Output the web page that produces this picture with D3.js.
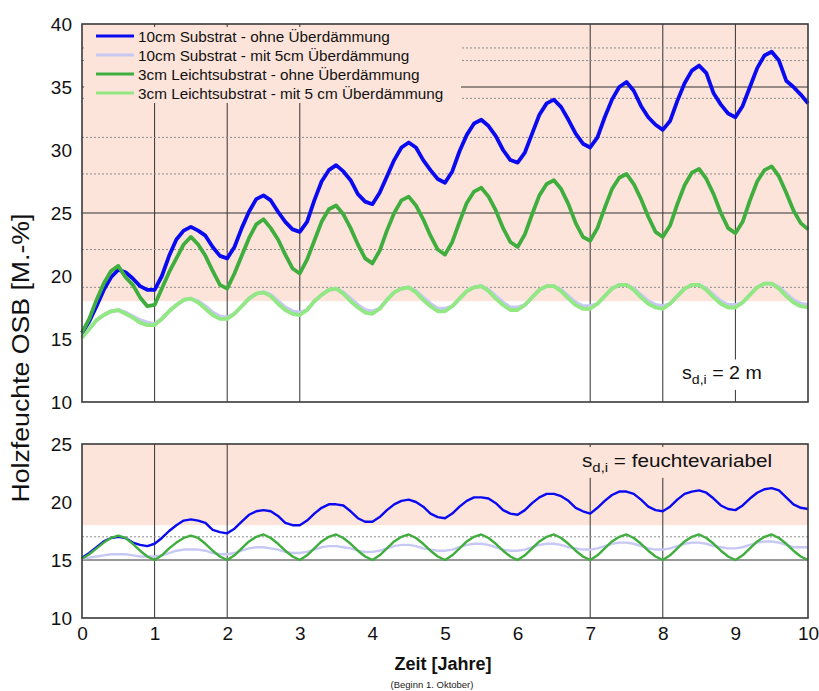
<!DOCTYPE html>
<html>
<head>
<meta charset="utf-8">
<script src="https://cdn.jsdelivr.net/npm/d3@7"></script>
<style>
  body { margin: 0; background: #fff; }
  svg { display: block; font-family: "Liberation Sans", Arial, sans-serif; }
</style>
</head>
<body>
<div id="chart"></div>
<script>
// time axis: 0..10 years in steps of 0.1
const years = d3.range(0, 101).map(i => i / 10);
const xTicks = [0, 1, 2, 3, 4, 5, 6, 7, 8, 9, 10];
const topYTicks = [10, 15, 20, 25, 30, 35, 40];
const bottomYTicks = [10, 15, 20, 25];

const seriesNames = [
  '10cm Substrat - ohne Überdämmung',
  '10cm Substrat - mit 5cm Überdämmung',
  '3cm Leichtsubstrat - ohne Überdämmung',
  '3cm Leichtsubstrat - mit 5 cm Überdämmung'
];

// s_d,i = 2 m
const topBlue = [
  15.5, 16.4, 17.6, 18.9, 19.9, 20.5, 20.3, 19.8, 19.2, 18.9,
  18.9, 20.0, 21.6, 22.9, 23.6, 23.9, 23.6, 23.2, 22.3, 21.6,
  21.4, 22.3, 23.8, 25.1, 26.1, 26.4, 26.0, 25.1, 24.3, 23.7,
  23.5, 24.3, 26.0, 27.5, 28.4, 28.8, 28.3, 27.6, 26.5, 25.9,
  25.7, 26.6, 27.9, 29.2, 30.2, 30.6, 30.2, 29.2, 28.4, 27.7,
  27.4, 28.3, 29.9, 31.2, 32.1, 32.4, 31.9, 31.1, 30.0, 29.2,
  29.0, 29.8, 31.3, 32.8, 33.7, 34.0, 33.4, 32.4, 31.3, 30.5,
  30.2, 31.0, 32.6, 34.0, 35.0, 35.4, 34.7, 33.5, 32.6, 32.0,
  31.6, 32.3, 33.9, 35.3, 36.3, 36.7, 36.1, 34.5, 33.6, 32.9,
  32.6, 33.5, 35.0, 36.5, 37.5, 37.8, 37.1, 35.5, 35.0, 34.4,
  33.7
];
const topGreen = [
  15.5, 16.6, 18.1, 19.4, 20.4, 20.8, 19.9, 19.3, 18.3, 17.6,
  17.7, 19.0, 20.3, 21.4, 22.5, 23.1, 22.5, 21.6, 20.4, 19.3,
  19.0, 20.2, 21.6, 23.0, 24.1, 24.5, 23.8, 22.9, 21.7, 20.6,
  20.2, 21.3, 22.8, 24.3, 25.3, 25.6, 24.9, 23.8, 22.5, 21.4,
  21.0, 22.0, 23.6, 25.0, 26.0, 26.3, 25.6, 24.5, 23.2, 22.1,
  21.7, 22.7, 24.3, 25.8, 26.7, 27.0, 26.3, 25.2, 23.8, 22.7,
  22.3, 23.3, 24.9, 26.4, 27.3, 27.6, 26.9, 25.7, 24.2, 23.1,
  22.8, 23.8, 25.4, 26.9, 27.8, 28.1, 27.3, 26.1, 24.7, 23.5,
  23.1, 24.0, 25.7, 27.2, 28.2, 28.5, 27.7, 26.5, 25.0, 23.8,
  23.4, 24.3, 26.0, 27.5, 28.4, 28.7, 27.9, 26.6, 25.2, 24.2,
  23.7
];
const topLavender = [
  15.2, 15.8, 16.5, 16.9, 17.2, 17.3, 17.1, 16.8, 16.5, 16.3,
  16.2, 16.6, 17.2, 17.7, 18.1, 18.2, 18.0, 17.6, 17.1, 16.8,
  16.7, 17.0, 17.6, 18.2, 18.6, 18.7, 18.5, 18.0, 17.5, 17.2,
  17.1, 17.3, 18.0, 18.5, 18.9, 19.0, 18.7, 18.2, 17.7, 17.3,
  17.2, 17.4, 18.1, 18.7, 19.0, 19.1, 18.8, 18.3, 17.8, 17.4,
  17.4, 17.6, 18.2, 18.8, 19.1, 19.2, 18.9, 18.4, 17.9, 17.5,
  17.5, 17.7, 18.3, 18.9, 19.2, 19.2, 18.9, 18.4, 17.9, 17.6,
  17.6, 17.8, 18.4, 19.0, 19.3, 19.3, 19.0, 18.5, 18.0, 17.7,
  17.6, 17.8, 18.4, 19.0, 19.3, 19.3, 19.0, 18.5, 18.0, 17.7,
  17.7, 17.9, 18.5, 19.1, 19.4, 19.4, 19.1, 18.6, 18.1, 17.8,
  17.7
];
const topLightGreen = [
  15.1, 15.8, 16.5, 16.9, 17.2, 17.3, 17.0, 16.7, 16.3, 16.1,
  16.1, 16.6, 17.2, 17.7, 18.1, 18.2, 17.9, 17.4, 16.9, 16.6,
  16.6, 17.0, 17.6, 18.2, 18.6, 18.7, 18.4, 17.8, 17.3, 17.0,
  16.9, 17.3, 18.0, 18.5, 18.9, 19.0, 18.6, 18.0, 17.5, 17.1,
  17.0, 17.4, 18.1, 18.7, 19.0, 19.1, 18.7, 18.1, 17.6, 17.2,
  17.2, 17.6, 18.2, 18.8, 19.1, 19.2, 18.8, 18.2, 17.7, 17.3,
  17.3, 17.7, 18.3, 18.9, 19.2, 19.2, 18.8, 18.2, 17.7, 17.4,
  17.4, 17.8, 18.4, 19.0, 19.3, 19.3, 18.9, 18.3, 17.8, 17.5,
  17.4, 17.8, 18.4, 19.0, 19.3, 19.3, 18.9, 18.3, 17.8, 17.5,
  17.5, 17.9, 18.5, 19.1, 19.4, 19.4, 19.0, 18.4, 17.9, 17.6,
  17.5
];

// s_d,i = feuchtevariabel
const bottomBlue = [
  15.2, 15.6, 16.1, 16.6, 16.9, 17.0, 16.9, 16.5, 16.3, 16.2,
  16.4, 16.9, 17.5, 18.0, 18.4, 18.5, 18.4, 18.2, 17.6, 17.4,
  17.3, 17.7, 18.3, 18.9, 19.2, 19.3, 19.2, 18.8, 18.2, 18.0,
  18.0, 18.4, 19.0, 19.5, 19.8, 19.8, 19.7, 19.2, 18.6, 18.3,
  18.3, 18.7, 19.3, 19.8, 20.1, 20.2, 20.0, 19.6, 19.0, 18.7,
  18.6, 19.0, 19.6, 20.1, 20.4, 20.4, 20.3, 19.9, 19.3, 19.0,
  18.9, 19.3, 19.9, 20.4, 20.7, 20.7, 20.5, 20.1, 19.5, 19.2,
  19.0, 19.5, 20.1, 20.6, 20.9, 20.9, 20.7, 20.2, 19.6, 19.3,
  19.2, 19.6, 20.2, 20.7, 20.9, 21.0, 20.8, 20.3, 19.7, 19.4,
  19.3, 19.7, 20.3, 20.8, 21.1, 21.2, 21.0, 20.4, 19.8, 19.5,
  19.4
];
const bottomGreen = [
  15.1, 15.5, 16.0, 16.5, 16.9, 17.1, 16.9, 16.4, 15.8, 15.3,
  15.0, 15.4, 16.0, 16.5, 16.9, 17.1, 16.9, 16.4, 15.8, 15.3,
  15.0, 15.4, 16.0, 16.6, 17.0, 17.2, 16.9, 16.4, 15.8, 15.3,
  15.0, 15.4, 16.0, 16.6, 17.0, 17.2, 16.9, 16.4, 15.8, 15.3,
  15.0, 15.4, 16.0, 16.6, 17.0, 17.2, 16.9, 16.4, 15.8, 15.3,
  15.0, 15.4, 16.0, 16.6, 17.0, 17.2, 16.9, 16.4, 15.8, 15.3,
  15.0, 15.4, 16.0, 16.6, 17.0, 17.2, 16.9, 16.4, 15.8, 15.3,
  15.0, 15.4, 16.0, 16.6, 17.0, 17.2, 16.9, 16.4, 15.8, 15.3,
  15.0, 15.4, 16.0, 16.6, 17.0, 17.2, 16.9, 16.4, 15.8, 15.3,
  15.0, 15.4, 16.0, 16.6, 17.0, 17.2, 16.9, 16.4, 15.8, 15.3,
  15.0
];
const bottomLavender = [
  15.1, 15.2, 15.3, 15.4, 15.5, 15.5, 15.5, 15.4, 15.3, 15.3,
  15.3, 15.4, 15.6, 15.8, 15.9, 15.9, 15.9, 15.8, 15.6, 15.5,
  15.5, 15.6, 15.8, 16.0, 16.1, 16.1, 16.0, 15.9, 15.7, 15.6,
  15.6, 15.7, 15.9, 16.1, 16.2, 16.2, 16.1, 16.0, 15.8, 15.7,
  15.7, 15.8, 16.0, 16.2, 16.3, 16.3, 16.2, 16.0, 15.9, 15.8,
  15.8, 15.9, 16.1, 16.3, 16.4, 16.4, 16.3, 16.1, 15.9, 15.8,
  15.8, 15.9, 16.1, 16.3, 16.4, 16.4, 16.3, 16.1, 16.0, 15.9,
  15.9, 16.0, 16.2, 16.4, 16.5, 16.5, 16.4, 16.2, 16.0, 15.9,
  15.9, 16.0, 16.2, 16.4, 16.5, 16.5, 16.4, 16.2, 16.1, 16.0,
  16.0, 16.1, 16.3, 16.5, 16.6, 16.6, 16.5, 16.3, 16.1, 16.1,
  16.1
];

// reference lines
const topVertical = [1, 2, 3, 7, 8, 9];
const topSolid = [25, 35];
const topDotted = [38.1, 37.1, 34.1, 31, 28.1, 22.1, 19.1];
const bottomVertical = [1, 2, 7, 8];
const bottomSolid = [15];
const bottomDotted = [17];
const limitValue = 18;

const colors = {
  blue: '#0a0af0',
  lavender: '#c8c8f4',
  green: '#3fae3f',
  lightGreen: '#92e882',
  pink: '#fde4da',
  frame: '#3a3a3a'
};

const W = 819, H = 691;
const svg = d3.select('#chart').append('svg')
  .attr('width', W)
  .attr('height', H);

const x = d3.scaleLinear().domain([0, 10]).range([82, 808]);
const yTop = d3.scaleLinear().domain([10, 40]).range([402, 24]);
const yBottom = d3.scaleLinear().domain([10, 25]).range([618, 444]);

function drawPanel(y, opts) {
  const g = svg.append('g');
  const [y0, y1] = y.range();

  g.append('rect')
    .attr('x', x(0)).attr('y', y(y.domain()[1]))
    .attr('width', x(10) - x(0))
    .attr('height', y(limitValue) - y(y.domain()[1]))
    .attr('fill', colors.pink);

  g.selectAll('.vgrid').data(opts.vertical).enter().append('line')
    .attr('x1', d => x(d)).attr('x2', d => x(d))
    .attr('y1', y1).attr('y2', y0)
    .attr('stroke', '#333').attr('stroke-width', 1);

  g.selectAll('.hdot').data(opts.dotted).enter().append('line')
    .attr('x1', x(0)).attr('x2', x(10))
    .attr('y1', d => y(d)).attr('y2', d => y(d))
    .attr('stroke', '#8a8a8a').attr('stroke-width', 1)
    .attr('stroke-dasharray', '2,2');

  g.selectAll('.hsolid').data(opts.solid).enter().append('line')
    .attr('x1', x(0)).attr('x2', x(10))
    .attr('y1', d => y(d)).attr('y2', d => y(d))
    .attr('stroke', '#333').attr('stroke-width', 1);

  const yAxis = d3.axisLeft(y).tickValues(opts.yTicks).tickSize(0).tickPadding(10);
  const yAxisG = g.append('g')
    .attr('transform', `translate(${x(0)},0)`)
    .call(yAxis);
  yAxisG.select('.domain').remove();
  yAxisG.selectAll('text')
    .attr('font-size', 19)
    .attr('font-family', '"Liberation Sans", Arial, sans-serif')
    .attr('fill', '#111');

  return g;
}

function drawLines(g, y, list, width) {
  const line = d3.line()
    .x((d, i) => x(years[i]))
    .y(d => y(d));
  list.forEach(s => {
    g.append('path')
      .datum(s.values)
      .attr('d', line)
      .attr('fill', 'none')
      .attr('stroke', s.color)
      .attr('stroke-width', width)
      .attr('stroke-linejoin', 'round');
  });
}

// text is a little wider than the font in the original, hence the x-stretch
function subscriptLabel(g, px, py, size, stretch, rest, bg) {
  const holder = g.append('g')
    .attr('transform', `translate(${px},${py}) scale(${stretch},1)`);
  const t = holder.append('text')
    .attr('font-size', size)
    .attr('fill', '#111');
  t.append('tspan').text('s');
  t.append('tspan').attr('dy', 5).attr('font-size', size * 0.72).text('d,i');
  t.append('tspan').attr('dy', -5).text(rest);
  const b = t.node().getBBox();
  holder.insert('rect', 'text')
    .attr('x', b.x - 6).attr('y', b.y - 3)
    .attr('width', b.width + 12).attr('height', b.height + 6)
    .attr('fill', bg);
}

// upper panel
const topG = drawPanel(yTop, {
  vertical: topVertical, dotted: topDotted, solid: topSolid, yTicks: topYTicks
});

drawLines(topG, yTop, [
  { values: topLavender, color: colors.lavender },
  { values: topLightGreen, color: colors.lightGreen },
  { values: topBlue, color: colors.blue },
  { values: topGreen, color: colors.green }
], 3.8);

// legend
const legend = topG.append('g');
legend.append('rect')
  .attr('x', 84).attr('y', 27).attr('width', 377).attr('height', 76)
  .attr('fill', colors.pink);
const legendColors = [colors.blue, colors.lavender, colors.green, colors.lightGreen];
seriesNames.forEach((name, i) => {
  const ly = 36 + i * 19;
  legend.append('line')
    .attr('x1', 96).attr('x2', 134)
    .attr('y1', ly).attr('y2', ly)
    .attr('stroke', legendColors[i]).attr('stroke-width', 3);
  legend.append('text')
    .attr('x', 138).attr('y', ly)
    .attr('dy', '0.36em')
    .attr('font-size', 15.3).attr('fill', '#111')
    .text(name);
});

subscriptLabel(topG.append('g'), 682, 379, 18.5, 1.06, ' = 2 m', '#fff');

topG.append('rect')
  .attr('x', x(0)).attr('y', yTop(40))
  .attr('width', x(10) - x(0)).attr('height', yTop(10) - yTop(40))
  .attr('fill', 'none').attr('stroke', colors.frame).attr('stroke-width', 1.6);

// lower panel
const bottomG = drawPanel(yBottom, {
  vertical: bottomVertical, dotted: bottomDotted, solid: bottomSolid, yTicks: bottomYTicks
});

drawLines(bottomG, yBottom, [
  { values: bottomLavender, color: colors.lavender },
  { values: bottomBlue, color: colors.blue },
  { values: bottomGreen, color: colors.green }
], 2.4);

subscriptLabel(bottomG.append('g'), 582, 467, 18.5, 1.12, ' = feuchtevariabel', colors.pink);

bottomG.append('rect')
  .attr('x', x(0)).attr('y', yBottom(25))
  .attr('width', x(10) - x(0)).attr('height', yBottom(10) - yBottom(25))
  .attr('fill', 'none').attr('stroke', colors.frame).attr('stroke-width', 1.6);

// x axis
const xAxisG = svg.append('g')
  .attr('transform', `translate(0,${yBottom(10)})`)
  .call(d3.axisBottom(x).tickValues(xTicks).tickSize(0).tickPadding(9));
xAxisG.select('.domain').remove();
xAxisG.selectAll('text')
  .attr('font-size', 19)
  .attr('font-family', '"Liberation Sans", Arial, sans-serif')
  .attr('fill', '#111');

svg.append('text')
  .attr('x', 443).attr('y', 670)
  .attr('text-anchor', 'middle')
  .attr('font-size', 18).attr('font-weight', 'bold').attr('fill', '#111')
  .text('Zeit [Jahre]');

svg.append('text')
  .attr('x', 432).attr('y', 688)
  .attr('text-anchor', 'middle')
  .attr('font-size', 9.5).attr('fill', '#222')
  .text('(Beginn 1. Oktober)');

svg.append('text')
  .attr('transform', 'translate(29,358) rotate(-90) scale(1.16,1)')
  .attr('text-anchor', 'middle')
  .attr('font-size', 23).attr('fill', '#111')
  .text('Holzfeuchte OSB [M.-%]');
</script>
</body>
</html>
